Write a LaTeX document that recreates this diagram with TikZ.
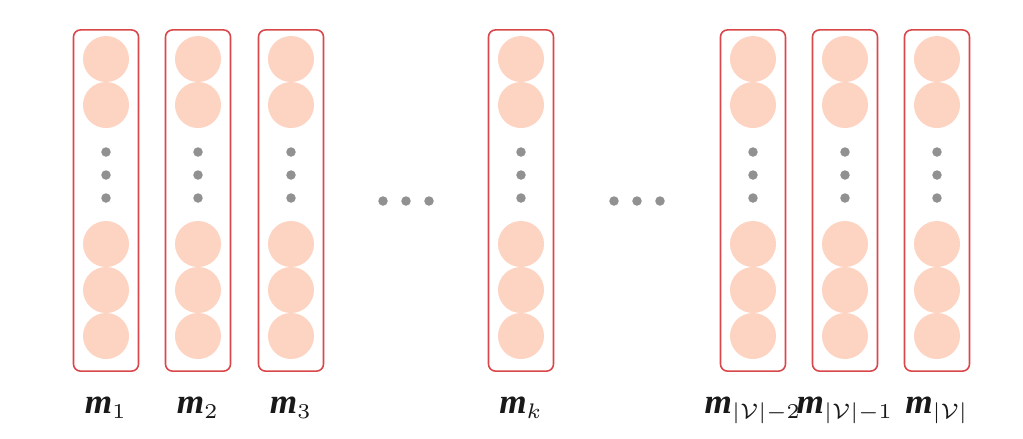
\documentclass[tikz,border=0pt]{standalone}
\usepackage{amsmath,amssymb}
\usepackage{fontspec}
\newfontfamily\labfont{Liberation Serif}
\DeclareMathSizes{10}{10}{6}{5}
\usetikzlibrary{positioning}
\definecolor{boxred}{HTML}{D9474B}
\definecolor{unitpink}{HTML}{FDD3C2}
\definecolor{dotgray}{HTML}{919191}
\newcommand{\mvec}{\text{\labfont\bfseries\itshape m}}

\begin{document}
\begin{tikzpicture}[
  x=0.01cm, y=-0.01cm,
  vecbox/.style={rectangle, rounded corners=2pt, draw=boxred, line width=0.45pt,
    minimum width=0.65cm, minimum height=3.41cm, inner sep=0pt},
  unit/.style={circle, fill=unitpink, minimum size=0.46cm, inner sep=0pt},
  vdot/.style={circle, fill=dotgray, minimum size=0.095cm, inner sep=0pt},
  veclabel/.style={anchor=base, font=\fontsize{10}{12}\selectfont, text=black!90},
]

% Frame of the picture
\useasboundingbox (0,0) rectangle (1023,438);

% === Columns of unit vectors ===
\foreach \x/\name/\lab in {106/m1/{1}, 198/m2/{2}, 291/m3/{3}, 521/mk/{k},
    753/mv2/{|\mathcal{V}|{-}2}, 845/mv1/{|\mathcal{V}|{-}1}, 937/mv/{|\mathcal{V}|}} {
  % outer box
  \node[vecbox] (\name) at (\x,200.5) {};
  % units
  \foreach \y/\i in {59/1, 105/2, 244/3, 290/4, 336/5}
    \node[unit] (\name-\i) at (\x,\y) {};
  % vertical dots
  \foreach \y/\i in {152/a, 175/b, 198/c}
    \node[vdot] (\name-\i) at (\x,\y) {};
  % label
  \node[veclabel] (\name-lab) at (\x,413) {$\mvec_{\lab}$};
}

% === Horizontal dots between the groups ===
\node[vdot] (hdl-a) at (383,201) {};
\node[vdot] (hdl-b) at (406,201) {};
\node[vdot] (hdl-c) at (429,201) {};

\node[vdot] (hdr-a) at (614,201) {};
\node[vdot] (hdr-b) at (637,201) {};
\node[vdot] (hdr-c) at (660,201) {};

\end{tikzpicture}
\end{document}
